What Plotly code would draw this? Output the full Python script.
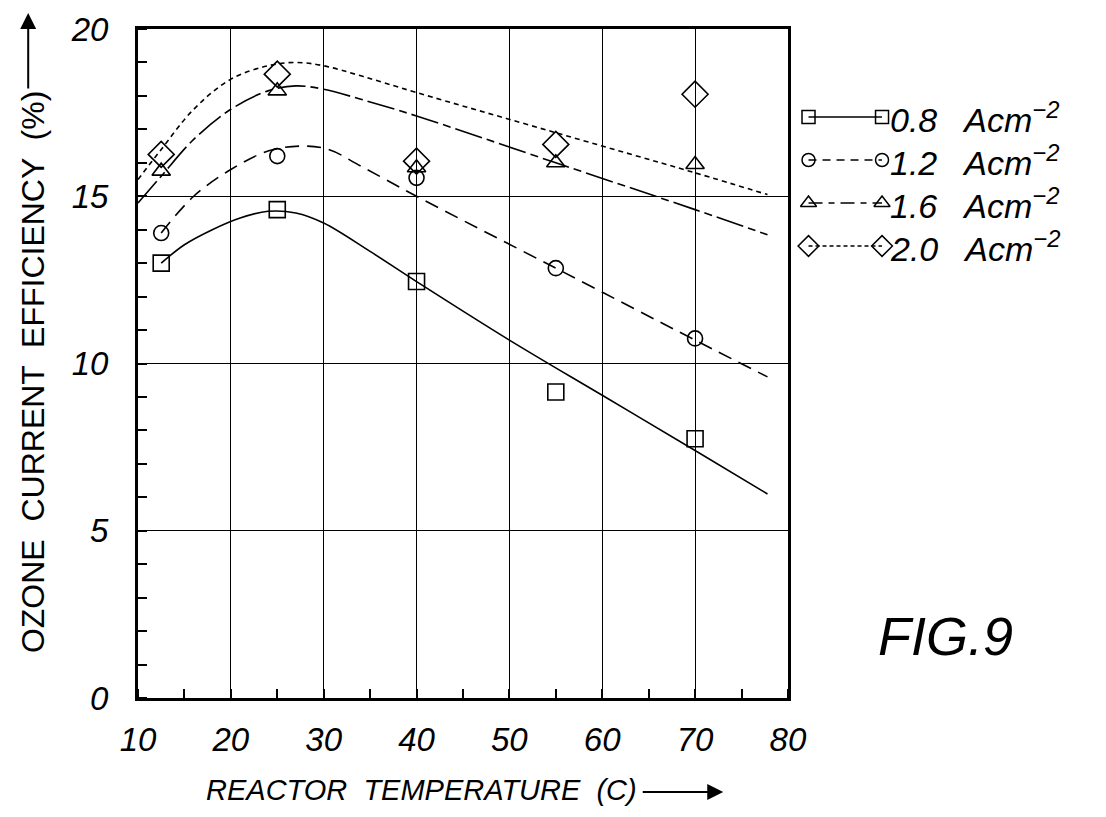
import plotly.graph_objects as go

# ---------------- data ----------------
series_names = ["0.8   Acm<sup>−2</sup>", "1.2   Acm<sup>−2</sup>",
                "1.6   Acm<sup>−2</sup>", "2.0   Acm<sup>−2</sup>"]

temp_points = [12.5, 25, 40, 55, 70]
eff_08 = [13.0, 14.6, 12.45, 9.15, 7.75]
eff_12 = [13.9, 16.2, 15.55, 12.85, 10.75]
eff_16 = [15.75, 18.15, 15.85, 16.0, 15.95]
eff_20 = [16.25, 18.65, 16.05, 16.55, 18.05]

# fitted curves (control points)
fit08_x = [12.5, 15, 18, 21, 24, 27, 30, 35, 40, 50, 60, 70, 77.8]
fit08_y = [13.0, 13.55, 14.0, 14.35, 14.55, 14.5, 14.2, 13.35, 12.45, 10.7, 9.05, 7.4, 6.1]
fit12_x = [12.5, 16, 20, 24, 27.5, 30.5, 34, 40, 55, 70, 77.8]
fit12_y = [13.9, 15.0, 15.8, 16.35, 16.5, 16.4, 15.9, 15.0, 12.85, 10.7, 9.6]
fit16_x = [10, 12.5, 16, 20, 24, 27, 30, 34, 40, 55, 70, 77.8]
fit16_y = [14.8, 15.6, 16.7, 17.6, 18.15, 18.3, 18.2, 17.9, 17.4, 16.0, 14.6, 13.85]
fit20_x = [10, 12.5, 16, 20, 24, 27, 30, 34, 40, 55, 70, 77.8]
fit20_y = [15.5, 16.4, 17.6, 18.5, 18.9, 19.0, 18.9, 18.6, 18.1, 16.9, 15.7, 15.05]

x_ticks = [10, 20, 30, 40, 50, 60, 70, 80]
y_ticks = [0, 5, 10, 15, 20]

# ---------------- styling ----------------
symbols = ["square-open", "circle-open", "triangle-up-open", "diamond-open"]
msizes = [16, 15, 16, 20]
lsizes = [13, 13, 14, 16]
dashes = ["solid", "14px,8px", "28px,5px,8px,5px", "5px,4px"]
leg_dashes = ["solid", "8px,6px", "14px,6px,6px,6px", "4px,3px"]
fits = [(fit08_x, fit08_y), (fit12_x, fit12_y), (fit16_x, fit16_y), (fit20_x, fit20_y)]
pts = [eff_08, eff_12, eff_16, eff_20]

FONT = "Liberation Sans, Arial, sans-serif"

W, H = 1106, 817
L, R, T, B = 138, 5, 29, 119
PLOT_RIGHT = 801
PW, PH = W - L - R, H - T - B
MAIN_DOM = (PLOT_RIGHT - L) / PW


def px(x):
    return (x - L) / PW


def py(y):
    return (H - B - y) / PH


# legend geometry (pixel layout of the hand-drawn key)
LEG_ROW0, LEG_STEP = 117, 43
LEG_M1, LEG_M2, LEG_TXT = 21, 96, 102   # offsets from plot right edge
leg_top = (LEG_ROW0 - T) / LEG_STEP
leg_span = PH / LEG_STEP

fig = go.Figure()
for i in range(4):
    fx, fy = fits[i]
    fig.add_trace(go.Scatter(x=fx, y=fy, mode="lines",
                             line=dict(color="black", width=1.6, dash=dashes[i],
                                       shape="spline", smoothing=1.0),
                             showlegend=False, hoverinfo="skip"))
    fig.add_trace(go.Scatter(x=temp_points, y=pts[i], mode="markers", name=series_names[i],
                             marker=dict(symbol=symbols[i], size=msizes[i], color="black",
                                         line=dict(width=1.6, color="black")),
                             showlegend=False))
    # key entry: marker — line — marker
    fig.add_trace(go.Scatter(x=[LEG_M1, LEG_M2], y=[i, i], xaxis="x2", yaxis="y2",
                             mode="lines+markers", cliponaxis=False, showlegend=False,
                             hoverinfo="skip",
                             line=dict(color="black", width=1.5, dash=leg_dashes[i]),
                             marker=dict(symbol=symbols[i], size=lsizes[i], color="black",
                                         line=dict(width=1.5, color="black"))))

fig.update_layout(
    width=W, height=H,
    margin=dict(l=L, r=R, t=T, b=B, pad=0),
    paper_bgcolor="white", plot_bgcolor="white",
    font=dict(family=FONT, color="black"),
    showlegend=False,
    xaxis=dict(domain=[0, MAIN_DOM], range=[10, 80], tickvals=x_ticks, showgrid=True,
               gridcolor="black", gridwidth=1, showline=True, linecolor="black",
               linewidth=3, mirror=True, ticks="", zeroline=False,
               tickfont=dict(family=FONT, size=33, style="italic", color="black"),
               ticklabelstandoff=10,
               minor=dict(dtick=5, tick0=0, ticks="inside", ticklen=9, tickcolor="black",
                          tickwidth=1.5, showgrid=False)),
    yaxis=dict(range=[0, 20], tickvals=y_ticks, showgrid=True, gridcolor="black",
               gridwidth=1, showline=True, linecolor="black", linewidth=3, mirror=True,
               ticks="", zeroline=False,
               tickfont=dict(family=FONT, size=33, style="italic", color="black"),
               ticklabelstandoff=20,
               minor=dict(dtick=1, tick0=0, ticks="inside", ticklen=9, tickcolor="black",
                          tickwidth=1.5, showgrid=False)),
    xaxis2=dict(domain=[MAIN_DOM, 1.0], range=[0, W - R - PLOT_RIGHT], visible=False,
                anchor="y2", fixedrange=True),
    yaxis2=dict(domain=[0, 1], range=[leg_span - leg_top, -leg_top], visible=False,
                anchor="x2", fixedrange=True),
)

annotations = []
for i in range(4):
    annotations.append(dict(text=series_names[i], x=LEG_TXT, y=i, xref="x2", yref="y2",
                            showarrow=False, xanchor="left", yanchor="middle",
                            font=dict(family=FONT, size=34, style="italic", color="black")))

annotations += [
    dict(text="OZONE  CURRENT  EFFICIENCY  (%)", x=px(31), y=py(372), xref="paper",
         yref="paper", showarrow=False, textangle=-90,
         font=dict(family=FONT, size=32, color="black"), xanchor="center", yanchor="middle"),
    dict(text="", x=px(26), y=py(13), xref="paper", yref="paper", showarrow=True,
         ax=0, ay=77, arrowhead=2, arrowsize=1.6, arrowwidth=2, arrowcolor="black"),
    dict(text="REACTOR  TEMPERATURE  (C)", x=px(427), y=py(790), xref="paper",
         yref="paper", showarrow=False,
         font=dict(family=FONT, size=29, style="italic", color="black"),
         xanchor="center", yanchor="middle"),
    dict(text="", x=px(735), y=py(792), xref="paper", yref="paper", showarrow=True,
         ax=-82, ay=0, arrowhead=2, arrowsize=1.6, arrowwidth=2, arrowcolor="black"),
    dict(text="FIG.9", x=px(962), y=py(636), xref="paper", yref="paper", showarrow=False,
         font=dict(family=FONT, size=54, style="italic", color="black"),
         xanchor="center", yanchor="middle"),
]
fig.update_layout(annotations=annotations)

fig.write_html("out.html", config={"displayModeBar": False},
               post_script="document.body.style.margin='0px';")
